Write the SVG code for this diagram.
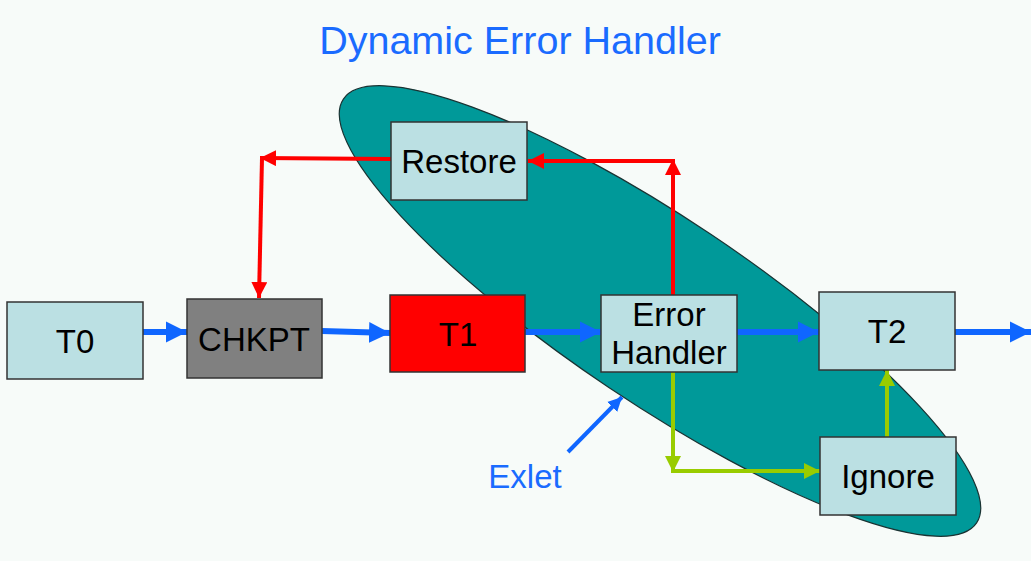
<svg xmlns="http://www.w3.org/2000/svg" width="1031" height="561" viewBox="0 0 1031 561">
<style>
.box{fill:#bbe0e3;stroke:#333;stroke-width:1.5}
.lbl{font-family:"Liberation Sans",Arial,sans-serif;font-size:33px;fill:#000;text-anchor:middle}
.blue{fill:none;stroke:#0f66ff;stroke-width:6}
.red{fill:none;stroke:#ff0000;stroke-width:4}
.green{fill:none;stroke:#99cc00;stroke-width:4}
</style>
<defs>
<marker id="ab" viewBox="0 0 10 10" refX="10" refY="5" markerWidth="3.5" markerHeight="3.7" markerUnits="strokeWidth" orient="auto"><path d="M0,0L10,5L0,10z" fill="#0f66ff"/></marker>
<marker id="ar" viewBox="0 0 10 10" refX="10" refY="5" markerWidth="4" markerHeight="4" markerUnits="strokeWidth" orient="auto"><path d="M0,0L10,5L0,10z" fill="#ff0000"/></marker>
<marker id="ag" viewBox="0 0 10 10" refX="10" refY="5" markerWidth="4" markerHeight="4" markerUnits="strokeWidth" orient="auto"><path d="M0,0L10,5L0,10z" fill="#99cc00"/></marker>
</defs>
<rect x="0" y="0" width="1031" height="561" fill="#f7fbf9"/>
<ellipse cx="660" cy="311" rx="381" ry="92" transform="rotate(33.8 660 311)" fill="#009999" stroke="#1a3333" stroke-width="1.2"/>
<text x="520" y="54" font-family="'Liberation Sans',Arial,sans-serif" font-size="39.5" fill="#1a6bff" text-anchor="middle">Dynamic Error Handler</text>
<g id="connectors">
<line class="blue" x1="143" y1="332" x2="187" y2="332" marker-end="url(#ab)"/>
<line class="blue" x1="322" y1="331" x2="390" y2="333" marker-end="url(#ab)"/>
<line class="blue" x1="525" y1="332" x2="601" y2="332" marker-end="url(#ab)"/>
<line class="blue" x1="737" y1="332" x2="819" y2="332" marker-end="url(#ab)"/>
<line class="blue" x1="955" y1="332" x2="1031" y2="332" marker-end="url(#ab)"/>
<line class="red" x1="391" y1="159" x2="260" y2="158" marker-end="url(#ar)"/>
<line class="red" x1="262" y1="158" x2="259" y2="298" marker-end="url(#ar)"/>
<line class="red" x1="673" y1="295" x2="673" y2="159" marker-end="url(#ar)"/>
<line class="red" x1="675" y1="161" x2="528" y2="161" marker-end="url(#ar)"/>
<line class="green" x1="673" y1="372" x2="673" y2="472" marker-end="url(#ag)"/>
<line class="green" x1="671" y1="471" x2="820" y2="471" marker-end="url(#ag)"/>
<line class="green" x1="887" y1="437" x2="887" y2="370" marker-end="url(#ag)"/>
<line x1="568" y1="452" x2="622" y2="397" stroke="#0f66ff" stroke-width="4" marker-end="url(#ab)"/>
</g>
<g id="T0"><rect class="box" x="7" y="302" width="136" height="77"/><text class="lbl" x="75" y="353">T0</text></g>
<g id="CHKPT"><rect class="box" style="fill:#808080" x="187" y="299" width="135" height="79"/><text class="lbl" x="254" y="351">CHKPT</text></g>
<g id="T1"><rect class="box" style="fill:#ff0000" x="390" y="295" width="135" height="77"/><text class="lbl" x="458" y="346">T1</text></g>
<g id="Restore"><rect class="box" x="391" y="122" width="136" height="78"/><text class="lbl" x="459" y="173">Restore</text></g>
<g id="ErrorHandler"><rect class="box" x="601" y="295" width="136" height="77"/><text class="lbl" x="669" y="326">Error</text><text class="lbl" x="669" y="364">Handler</text></g>
<g id="T2"><rect class="box" x="819" y="292" width="136" height="78"/><text class="lbl" x="887" y="343">T2</text></g>
<g id="Ignore"><rect class="box" x="820" y="437" width="136" height="78"/><text class="lbl" x="888" y="488">Ignore</text></g>
<text x="525" y="488" font-family="'Liberation Sans',Arial,sans-serif" font-size="33" fill="#1a6bff" text-anchor="middle">Exlet</text>
</svg>
